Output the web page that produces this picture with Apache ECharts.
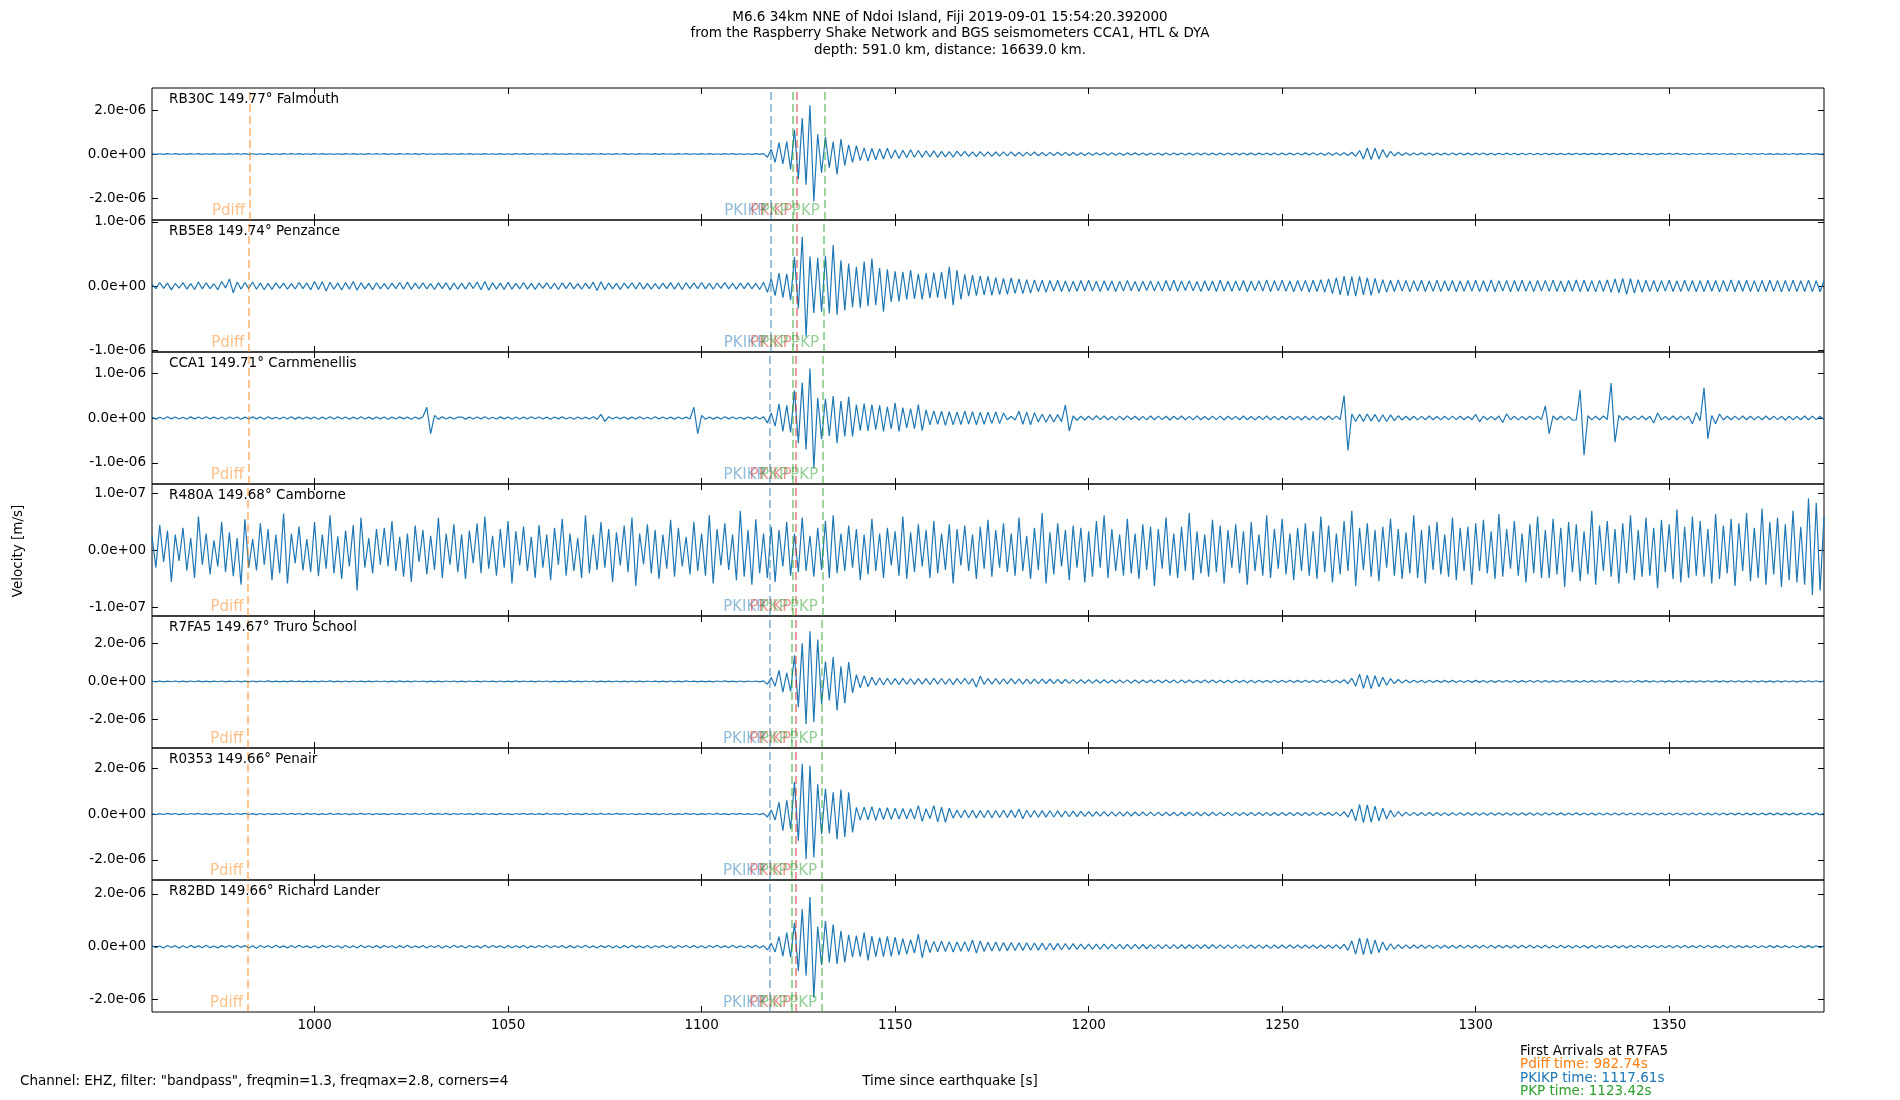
<!DOCTYPE html>
<html><head><meta charset="utf-8">
<script src="https://cdn.jsdelivr.net/npm/echarts@6/dist/echarts.min.js"></script>
<style>html,body{margin:0;padding:0;background:#fff}#c{width:1900px;height:1100px}</style>
</head><body><div id="c"></div>
<script>
// ---------- DATA ----------
const T0 = 958;          // time of first sample [s since earthquake]
const DT = 1;            // sample step [s]
const UNIT = 1e-9;       // trace values are in nm/s
const X_MIN = 958, X_MAX = 1390;
const xTicks = [1000, 1050, 1100, 1150, 1200, 1250, 1300, 1350];

const stationCodes = ['RB30C', 'RB5E8', 'CCA1', 'R480A', 'R7FA5', 'R0353', 'R82BD'];
const stationDists = ['149.77', '149.74', '149.71', '149.68', '149.67', '149.66', '149.66'];
const stationPlaces = ['Falmouth', 'Penzance', 'Carnmenellis', 'Camborne', 'Truro School', 'Penair', 'Richard Lander'];

const yMins = [-3.0e-6, -1.03e-6, -1.47e-6, -1.15e-7, -3.5e-6, -2.88e-6, -2.47e-6];
const yMaxs = [3.0e-6, 1.03e-6, 1.47e-6, 1.17e-7, 3.44e-6, 2.88e-6, 2.52e-6];
const yTicks = [
  [-2e-6, 0, 2e-6], [-1e-6, 0, 1e-6], [-1e-6, 0, 1e-6], [-1e-7, 0, 1e-7],
  [-2e-6, 0, 2e-6], [-2e-6, 0, 2e-6], [-2e-6, 0, 2e-6]
];

const pdiffTimes = [983.2, 983.0, 982.9, 982.8, 982.74, 982.7, 982.7];
const pkikpTimes = [1117.9, 1117.8, 1117.7, 1117.65, 1117.61, 1117.6, 1117.6];
const pkpTimes   = [1123.6, 1123.55, 1123.5, 1123.45, 1123.42, 1123.4, 1123.4];
const pkikp2Times = [1124.6, 1124.5, 1124.4, 1124.35, 1124.3, 1124.3, 1124.3]; // PKiKP
const pkp2Times  = [1131.7, 1131.5, 1131.3, 1131.2, 1131.1, 1131.0, 1131.0];

const firstArrivalLines = ['First Arrivals at R7FA5', 'Pdiff time: 982.74s', 'PKIKP time: 1117.61s', 'PKP time: 1123.42s'];

const RB30C = [
12,-15,10,-18,14,-11,16,-13,12,-17,15,-10,13,-16,11,-14,17,-12,10,-15,
14,-12,16,-11,13,-18,12,-15,10,-14,16,-13,11,-17,15,-12,14,-10,18,-13,
11,-16,13,-12,15,-14,10,-17,12,-13,16,-11,14,-15,12,-18,13,-10,15,-12,
17,-13,11,-15,14,-12,16,-10,13,-19,22,-14,12,-16,11,-13,15,-17,10,-14,
13,-11,16,-14,12,-15,18,-12,10,-16,14,-13,11,-15,17,-12,13,-14,16,-11,
12,-17,14,-10,15,-13,11,-16,13,-12,18,-14,10,-15,16,-11,14,-13,12,-17,
15,-12,13,-16,11,-14,17,-10,12,-15,14,-13,16,-11,10,-18,13,-12,15,-14,
12,-16,14,-11,13,-15,10,-17,16,-12,14,-13,11,-15,12,-14,16,-18,20,-150,
220,-380,520,-450,560,-700,1100,-1150,1620,-1400,2220,-2160,900,-850,780,-620,560,-930,675,-520,
420,-380,375,-300,280,-320,250,-260,240,-230,260,-210,180,-200,170,-160,190,-150,160,-140,
150,-130,140,-150,120,-130,110,-140,130,-100,120,-110,100,-120,110,-95,100,-105,90,-100,
95,-85,100,-90,80,-95,85,-75,90,-80,70,-85,75,-70,80,-65,75,-70,65,-72,
60,-68,55,-62,58,-50,60,-55,52,-58,48,-55,50,-45,52,-48,45,-50,47,-44,
45,-50,42,-46,48,-40,44,-47,40,-45,43,-38,46,-42,40,-44,38,-42,45,-40,
42,-38,45,-40,38,-44,41,-37,43,-40,45,-42,38,-46,40,-43,48,-45,52,-50,
55,-50,48,-58,60,-55,62,-58,60,-65,80,-110,160,-230,270,-250,260,-230,200,-150,
120,-90,80,-70,60,-58,50,-48,52,-45,47,-50,44,-46,40,-45,42,-38,44,-40,
38,-42,40,-36,42,-38,35,-40,37,-34,39,-36,33,-38,35,-32,36,-34,30,-35,
32,-30,34,-31,29,-33,30,-28,32,-29,27,-31,28,-30,26,-29,30,-27,28,-25,
27,-26,29,-24,26,-28,25,-27,23,-26,28,-24,25,-22,26,-24,22,-25,23,-21,
24,-22,25,-20,23,-24,21,-23,20,-22,24,-21,22,-19,23,-20,21,-22,19,-21,
20,-22,19,-21,23,-18,20,-19,21,-17,19,-20,18
];
const RB5E8 = [
30,-42,55,-38,45,-60,40,-35,52,-48,38,-55,62,-45,50,-40,35,-58,70,-30,
110,-105,60,-48,55,-40,62,-50,45,-58,40,-52,48,-36,44,-50,38,-46,55,-42,
48,-60,72,-55,65,-78,58,-50,45,-62,55,-48,70,-66,52,-45,40,-58,50,-44,
38,-50,45,-42,55,-48,60,-52,44,-40,50,-46,38,-55,48,-42,52,-60,45,-50,
42,-48,55,-40,62,-58,70,-64,52,-48,45,-56,60,-50,42,-46,54,-48,40,-52,
45,-38,50,-46,42,-55,48,-40,52,-44,38,-50,46,-42,60,-72,65,-58,48,-45,
40,-52,46,-38,50,-44,55,-48,42,-50,38,-46,44,-40,52,-48,45,-55,50,-42,
48,-40,55,-45,42,-50,46,-38,52,-44,40,-48,45,-42,50,-46,40,-55,60,-100,
110,-150,200,-180,190,-220,450,-350,770,-790,460,-420,440,-400,470,-430,640,-450,400,-380,
350,-330,300,-340,380,-310,430,-300,280,-400,260,-250,230,-240,220,-210,250,-200,190,-210,
200,-190,210,-180,220,-200,300,-300,250,-210,180,-160,170,-150,160,-140,150,-145,130,-135,
120,-130,125,-115,110,-120,100,-110,95,-85,90,-100,85,-80,90,-85,80,-88,75,-82,
85,-78,90,-80,75,-88,82,-70,78,-85,72,-80,88,-75,70,-82,76,-70,80,-74,
72,-80,85,-75,90,-82,78,-70,84,-76,70,-88,82,-74,78,-85,90,-80,75,-82,
80,-74,86,-90,78,-72,84,-80,95,-88,82,-76,90,-84,78,-92,86,-80,88,-94,
90,-85,100,-95,110,-120,130,-140,155,-150,145,-160,150,-140,130,-145,120,-110,100,-95,
90,-85,95,-80,88,-92,84,-78,90,-86,80,-84,92,-88,82,-78,86,-90,80,-84,
85,-80,90,-88,82,-86,95,-90,84,-80,88,-92,86,-82,90,-84,80,-88,86,-80,
88,-84,92,-86,80,-90,85,-82,94,-88,90,-86,84,-92,88,-82,95,-100,110,-105,
120,-130,115,-110,100,-95,90,-88,86,-92,84,-80,90,-86,82,-88,92,-84,86,-90,
84,-88,90,-82,86,-92,88,-84,95,-90,86,-82,90,-88,84,-92,88,-86,90,-84,
88,-92,86,-84,90,-88,82,-86,92,-88,84,-90,86
];
const CCA1 = [
20,-25,18,-22,26,-19,24,-21,17,-23,25,-20,22,-18,27,-24,19,-21,23,-26,
21,-18,24,-27,20,-22,25,-19,23,-28,26,-20,18,-24,22,-21,27,-25,19,-23,
24,-20,22,-26,19,-23,28,-21,25,-18,23,-27,20,-24,26,-22,19,-25,21,-20,
23,-26,20,-22,25,-19,24,-28,21,-20,26,240,-350,60,-30,25,-22,20,-24,18,
22,-25,19,-21,24,-20,26,-23,18,-22,25,-19,23,-27,21,-24,20,-22,26,-18,
21,-24,19,-26,23,-20,25,-22,18,-27,24,-21,20,-23,26,-30,80,-75,28,-22,
24,-19,22,-25,20,-23,27,-21,18,-24,26,-20,23,-22,19,-25,21,-24,20,-23,
240,-350,60,-28,22,-25,20,-23,26,-19,24,-21,18,-25,22,-20,26,-23,30,-110,
110,-180,315,-300,280,-320,615,-560,790,-700,1100,-1125,450,-470,430,-400,490,-560,380,-410,
470,-410,300,-280,320,-290,300,-260,280,-300,250,-240,340,-300,230,-220,210,-240,300,-280,
180,-150,160,-140,150,-165,140,-150,130,-145,155,-135,140,-150,125,-140,130,-120,135,-125,
110,-40,35,-45,150,-140,130,-150,120,-90,85,-95,80,-90,75,-80,290,-290,45,-50,
40,-45,38,-42,50,-36,44,-40,35,-48,42,-38,46,-34,40,-44,36,-41,45,-38,
42,-36,40,-45,38,-34,44,-40,36,-42,48,-38,35,-40,43,-37,41,-45,38,-35,
36,-40,44,-38,35,-42,40,-36,45,-39,37,-43,40,-35,42,-38,36,-44,39,-41,
38,-42,35,-40,44,-37,41,-36,500,-720,90,-80,85,-75,90,-70,80,-85,72,-78,
70,-60,50,-45,40,-44,38,-42,36,-40,44,-38,35,-41,39,-37,42,-36,40,-38,
35,-40,80,-85,42,-38,36,-40,44,-100,95,-40,38,-42,36,-39,41,-37,40,-36,
270,-350,45,-40,38,-42,36,-44,-40,620,-830,50,-42,38,-40,44,-36,780,-540,60,
-45,40,-38,42,-36,44,-40,38,-110,110,-42,36,-40,44,-38,42,-36,40,-130,120,
-60,670,-460,55,-130,90,-45,40,-38,42,-36,44,-40,38,-42,36,-40,44,-38,42,
-36,40,-44,38,-42,36,-40,44,-38,42,-36,40,-38
];
const R480A = [
25,-30,45,-20,35,-55,28,-18,40,-35,22,-48,60,-25,30,-42,18,-28,50,-38,
32,-45,22,-60,55,-30,20,-35,48,-25,38,-52,28,-40,65,-58,30,-22,42,-35,
20,-38,50,-45,28,-32,62,-40,25,-50,35,-28,45,-70,58,-30,22,-40,38,-25,
40,-28,52,-36,24,-46,30,-55,44,-20,36,-42,26,-34,58,-48,30,-25,46,-38,
28,-50,35,-22,48,-40,60,-32,26,-44,38,-30,52,-58,34,-26,42,-36,24,-48,
45,-30,28,-52,40,-25,56,-44,30,-36,22,-48,62,-40,28,-34,50,-30,38,-55,
32,-26,44,-38,58,-62,30,-24,46,-40,36,-50,28,-32,54,-46,40,-28,24,-42,
50,-36,30,-44,62,-58,38,-26,48,-34,28,-52,70,-46,36,-60,55,-40,30,-48,
42,-55,36,-28,50,-44,30,-38,58,-36,26,-46,40,-34,52,-48,62,-40,30,-36,
44,-30,38,-52,28,-42,56,-36,30,-48,40,-26,34,-44,60,-50,32,-38,46,-28,
36,-48,52,-40,30,-34,46,-58,38,-26,44,-36,28,-50,42,-32,54,-46,36,-30,
48,-38,30,-44,58,-36,26,-50,40,-34,66,-58,32,-42,48,-28,36,-52,44,-30,
40,-56,34,-46,52,-30,62,-48,38,-36,28,-44,56,-40,30,-50,46,-34,42,-62,
38,-32,58,-44,30,-48,42,-36,66,-52,34,-40,28,-46,54,-38,44,-58,36,-30,
46,-40,34,-60,50,-36,28,-44,62,-48,38,-32,56,-42,30,-52,40,-36,48,-44,
34,-50,60,-38,44,-56,30,-42,52,-36,70,-62,40,-34,48,-46,36,-54,42,-30,
56,-44,38,-50,32,-40,62,-48,36,-58,44,-34,50,-42,28,-46,58,-52,40,-36,
42,-60,48,-36,54,-40,34,-50,64,-46,38,-32,52,-44,30,-56,46,-40,60,-48,
36,-48,56,-42,40,-64,50,-38,46,-54,34,-42,70,-60,44,-36,52,-46,38,-58,
48,-40,62,-52,36,-46,58,-44,40,-66,54,-38,46,-50,72,-56,42,-48,60,-44,
52,-46,38,-58,64,-50,44,-40,56,-62,48,-36,66,-54,40,-48,74,-60,50,-42,
58,-64,46,-52,70,-56,42,-60,92,-78,84,-70,60
];
const R7FA5 = [
18,-22,15,-25,20,-17,23,-19,16,-24,21,-18,25,-20,17,-23,19,-16,22,-21,
20,-17,24,-22,18,-26,21,-19,23,-16,25,-20,17,-22,19,-24,26,-18,20,-23,
16,-21,19,-24,22,-18,25,-20,17,-23,21,-19,24,-16,18,-22,20,-25,23,-17,
22,-19,17,-23,26,-20,18,-24,21,-16,23,-22,19,-25,17,-20,24,-18,22,-21,
19,-24,22,-17,20,-25,23,-18,16,-21,24,-20,18,-23,25,-19,21,-17,20,-24,
23,-18,21,-26,17,-22,19,-20,25,-23,18,-21,22,-17,24,-19,20,-25,16,-22,
21,-23,18,-19,24,-21,16,-25,22,-18,20,-24,17,-21,23,-20,19,-22,25,-18,
20,-22,17,-24,19,-21,23,-18,25,-20,16,-23,21,-19,24,-17,22,-26,30,-150,
210,-250,580,-560,450,-520,1370,-1350,2000,-2240,2640,-2150,2200,-1200,1050,-1000,1280,-1530,800,-1140,
1020,-600,350,-330,300,-280,220,-200,180,-190,170,-160,150,-170,160,-150,140,-155,150,-140,
150,-160,170,-145,155,-150,140,-165,150,-135,160,-150,145,-300,280,-160,150,-140,155,-145,
140,-130,150,-125,135,-140,120,-130,125,-115,120,-110,115,-120,105,-110,100,-105,95,-100,
90,-95,85,-90,88,-80,85,-82,78,-85,80,-76,82,-78,75,-80,78,-72,76,-74,
75,-70,78,-72,70,-76,72,-68,74,-70,68,-72,70,-66,72,-68,65,-70,68,-64,
66,-62,68,-64,60,-66,62,-58,64,-60,58,-62,60,-56,62,-58,55,-60,58,-56,
60,-58,62,-56,60,-64,66,-70,90,-120,170,-250,385,-360,330,-380,300,-280,220,-200,
150,-120,100,-90,75,-68,65,-62,60,-64,58,-60,55,-58,56,-52,54,-55,50,-53,
52,-50,54,-48,50,-52,47,-50,48,-46,50,-45,47,-48,44,-46,45,-43,46,-44,
43,-45,42,-44,46,-41,43,-42,40,-44,42,-40,41,-43,39,-42,40,-38,42,-40,
39,-41,38,-40,42,-37,40,-38,36,-40,38,-36,39,-37,35,-38,37,-35,38,-36,
36,-38,35,-37,39,-34,36,-35,38,-33,35,-36,34,-37,35,-33,36,-34,32,-35,
34,-33,35,-32,34,-36,33,-31,34,-32,33,-30,32
];
const R0353 = [
20,-24,17,-21,26,-19,22,-25,18,-23,21,-17,24,-20,19,-26,23,-18,25,-22,
17,-23,21,-19,25,-22,18,-24,20,-26,23,-17,19,-21,24,-20,26,-18,22,-25,
24,-18,22,-26,19,-21,25,-23,17,-20,23,-24,18,-22,26,-19,21,-25,20,-17,
19,-25,23,-20,18,-24,21,-17,26,-22,20,-23,25,-19,17,-21,24,-26,22,-18,
23,-20,17,-25,24,-18,20,-22,19,-26,25,-21,18,-24,22,-17,26,-20,19,-23,
18,-26,24,-21,20,-19,23,-25,21,-18,17,-24,26,-22,19,-20,25,-23,18,-21,
25,-19,20,-23,22,-26,18,-21,24,-17,19,-25,21,-20,23,-24,17,-22,26,-19,
21,-25,19,-18,23,-22,26,-20,17,-24,22,-19,25,-21,18,-23,20,-26,28,-130,
175,-260,510,-730,600,-650,1390,-1170,2190,-1970,2100,-1900,1300,-880,1100,-850,950,-1100,1070,-1000,
950,-800,290,-270,300,-250,320,-280,260,-240,270,-230,250,-220,240,-210,230,-220,365,-320,
230,-200,365,-340,300,-360,250,-180,170,-160,175,-165,160,-170,155,-150,165,-160,150,-155,
160,-150,170,-155,220,-210,160,-145,150,-140,145,-135,140,-130,135,-125,130,-120,125,-115,
110,-105,100,-108,98,-95,100,-92,95,-90,92,-88,90,-86,88,-85,86,-82,84,-80,
82,-78,80,-76,78,-80,75,-78,76,-72,78,-74,72,-76,74,-70,72,-74,70,-72,
70,-68,72,-66,68,-70,66,-68,70,-64,68,-66,64,-68,66,-62,68,-64,62,-66,
64,-60,62,-58,66,-64,70,-80,100,-140,220,-300,420,-380,400,-360,340,-300,250,-220,
160,-130,110,-95,80,-72,70,-68,66,-70,64,-66,62,-64,60,-62,58,-60,56,-58,
58,-55,56,-54,57,-52,55,-53,54,-50,52,-54,50,-52,51,-49,52,-50,48,-51,
50,-48,52,-47,49,-50,47,-48,50,-46,48,-47,45,-48,46,-44,47,-45,44,-46,
45,-43,46,-44,42,-45,44,-42,43,-41,44,-42,40,-43,42,-40,41,-42,40,-41,
40,-42,39,-41,43,-40,41,-39,42,-38,40,-41,39,-40,38,-41,40,-39,38,-40,
39,-38,40,-37,39,-40,38,-36,39,-37,38,-36,37
];
const R82BD = [
35,-42,28,-50,45,-30,38,-55,32,-40,48,-36,30,-44,52,-38,27,-46,40,-33,
44,-36,52,-28,40,-48,34,-58,46,-30,38,-42,55,-35,29,-47,41,-39,50,-32,
30,-45,38,-52,48,-34,42,-29,36,-50,44,-40,31,-48,56,-37,33,-43,39,-46,
47,-31,35,-49,40,-38,53,-44,28,-36,46,-51,37,-30,43,-47,34,-41,50,-35,
38,-50,45,-33,30,-46,52,-39,41,-28,36,-54,48,-42,32,-37,45,-49,29,-40,
42,-35,50,-44,36,-31,47,-53,39,-45,33,-38,55,-41,30,-48,40,-36,46,-52,
33,-47,39,-40,51,-36,28,-45,43,-50,37,-32,48,-43,35,-55,41,-30,46,-39,
40,-44,36,-50,46,-33,52,-38,30,-42,49,-45,34,-40,44,-36,50,-48,42,-125,
125,-200,380,-360,530,-400,900,-920,1410,-1100,1880,-1930,760,-700,970,-600,840,-650,600,-600,
450,-400,420,-380,530,-520,400,-380,350,-380,390,-370,360,-320,300,-280,260,-240,470,-420,
260,-220,200,-190,210,-180,190,-200,180,-170,190,-180,250,-240,220,-180,170,-160,175,-165,
160,-150,155,-145,150,-140,145,-135,140,-130,135,-125,130,-120,125,-115,120,-110,115,-105,
100,-95,98,-92,95,-90,92,-88,90,-86,88,-85,86,-82,84,-80,82,-78,80,-76,
78,-75,76,-73,75,-72,74,-70,72,-71,70,-69,72,-68,70,-66,68,-67,66,-65,
68,-64,66,-65,64,-62,66,-63,62,-64,63,-60,62,-61,60,-62,61,-59,60,-58,
62,-60,60,-58,62,-64,70,-80,95,-140,220,-280,320,-300,310,-280,250,-220,180,-140,
110,-90,80,-70,66,-68,64,-62,60,-63,58,-60,57,-59,56,-58,55,-57,54,-56,
55,-53,56,-54,52,-55,53,-51,54,-52,50,-53,51,-50,52,-49,50,-51,48,-50,
49,-50,48,-47,50,-46,48,-49,47,-45,48,-46,44,-47,46,-45,47,-44,45,-46,
44,-46,45,-43,46,-44,42,-45,44,-43,45,-42,43,-44,42,-41,43,-42,40,-43,
42,-40,43,-41,40,-42,41,-39,42,-40,39,-41,40,-38,41,-39,38,-40,39,-37,
40,-38,39,-40,37,-39,38,-36,39,-37,36,-38,37
];
const traces = [RB30C, RB5E8, CCA1, R480A, R7FA5, R0353, R82BD];

// ---------- STYLE / LAYOUT ----------
const FONT = 'DejaVu Sans';
const GL = 152, GT = 88, GW = 1672, GH = 132;
const TRACE_COLOR = '#1f77b4';
const arrivals = [
  { name: 'Pdiff', times: pdiffTimes, color: 'rgba(255,127,14,0.5)' },
  { name: 'PKIKP', times: pkikpTimes, color: 'rgba(31,119,180,0.5)' },
  { name: 'PKiKP', times: pkikp2Times, color: 'rgba(214,39,40,0.5)' },
  { name: 'PKP', times: pkpTimes, color: 'rgba(44,160,44,0.5)' },
  { name: 'PKP', times: pkp2Times, color: 'rgba(44,160,44,0.5)' }
];
const fmtE = v => v.toExponential(1).replace(/e([+-])(\d)$/, (m, s, d) => 'e' + s + '0' + d);
const tickStyle = { show: true, inside: true, length: 6, lineStyle: { color: '#000', width: 1 } };
const noLine = { show: false, onZero: false };

const grids = [], xAxes = [], yAxes = [], series = [], graphics = [];
traces.forEach((tr, i) => {
  const last = i === traces.length - 1;
  grids.push({ left: GL, top: GT + GH * i, width: GW, height: GH, show: true,
    borderColor: '#000', borderWidth: 1, backgroundColor: 'rgba(0,0,0,0)', containLabel: false, outerBoundsMode: 'none' });
  xAxes.push({ gridIndex: i, type: 'value', position: 'bottom', min: X_MIN, max: X_MAX,
    axisLine: noLine, splitLine: { show: false },
    axisTick: Object.assign({ customValues: xTicks }, tickStyle),
    axisLabel: { show: last, customValues: xTicks, formatter: v => String(v), margin: 6, color: '#000', fontSize: 13.5, fontFamily: FONT } });
  xAxes.push({ gridIndex: i, type: 'value', position: 'top', min: X_MIN, max: X_MAX,
    axisLine: noLine, splitLine: { show: false },
    axisTick: Object.assign({ customValues: xTicks }, tickStyle), axisLabel: { show: false } });
  yAxes.push({ gridIndex: i, type: 'value', position: 'left', min: yMins[i], max: yMaxs[i],
    axisLine: noLine, splitLine: { show: false },
    axisTick: Object.assign({ customValues: yTicks[i] }, tickStyle),
    axisLabel: { show: true, customValues: yTicks[i], formatter: fmtE, margin: 6, color: '#000', fontSize: 13.5, fontFamily: FONT } });
  yAxes.push({ gridIndex: i, type: 'value', position: 'right', min: yMins[i], max: yMaxs[i],
    axisLine: noLine, splitLine: { show: false },
    axisTick: Object.assign({ customValues: yTicks[i] }, tickStyle), axisLabel: { show: false } });

  series.push({
    type: 'line', xAxisIndex: 2 * i, yAxisIndex: 2 * i, silent: true, animation: false,
    showSymbol: false, symbol: 'none', clip: true,
    lineStyle: { color: TRACE_COLOR, width: 1.2 },
    data: tr.map((v, k) => [T0 + k * DT, v * UNIT]),
    markLine: {
      silent: true, animation: false, symbol: ['none', 'none'], label: { show: false },
      data: arrivals.map(a => ({ xAxis: a.times[i], lineStyle: { color: a.color, width: 1.8, type: [8, 4] } }))
    },
    markPoint: {
      silent: true, animation: false, symbol: 'rect', symbolSize: 1,
      data: arrivals.map(a => ({
        coord: [a.times[i], yMins[i]], itemStyle: { color: 'rgba(0,0,0,0)' },
        label: { show: true, formatter: a.name, position: 'left', distance: 4, offset: [0, -9],
          color: a.color, fontSize: 15, fontFamily: FONT }
      }))
    }
  });

  graphics.push({ type: 'text', left: GL + 17, top: GT + GH * i + 4, z: 10,
    style: { text: stationCodes[i] + ' ' + stationDists[i] + '\u00b0 ' + stationPlaces[i],
      font: '13.5px "' + FONT + '"', fill: '#000' } });
});

const titleLines = [
  'M6.6 34km NNE of Ndoi Island, Fiji 2019-09-01 15:54:20.392000',
  'from the Raspberry Shake Network and BGS seismometers CCA1, HTL & DYA',
  'depth: 591.0 km, distance: 16639.0 km.'
];
titleLines.forEach((t, k) => graphics.push({ type: 'text', x: 950, y: 17 + 16.5 * k, z: 10,
  style: { text: t, font: '13.5px "' + FONT + '"', fill: '#000', align: 'center', verticalAlign: 'middle' } }));

graphics.push({ type: 'text', x: 18, y: 551, rotation: Math.PI / 2, z: 10,
  style: { text: 'Velocity [m/s]', font: '13.5px "' + FONT + '"', fill: '#000', align: 'center', verticalAlign: 'middle' } });
graphics.push({ type: 'text', x: 20, y: 1081, z: 10,
  style: { text: 'Channel: EHZ, filter: "bandpass", freqmin=1.3, freqmax=2.8, corners=4', font: '13.5px "' + FONT + '"', fill: '#000', verticalAlign: 'middle' } });
graphics.push({ type: 'text', x: 950, y: 1081, z: 10,
  style: { text: 'Time since earthquake [s]', font: '13.5px "' + FONT + '"', fill: '#000', align: 'center', verticalAlign: 'middle' } });
const blockColors = ['#000000', '#ff7f0e', '#1f77b4', '#2ca02c'];
firstArrivalLines.forEach((t, k) => graphics.push({ type: 'text', x: 1520, y: 1051 + 13.6 * k, z: 10,
  style: { text: t, font: '13.5px "' + FONT + '"', fill: blockColors[k], verticalAlign: 'middle' } }));

const chart = echarts.init(document.getElementById('c'), null, { renderer: 'canvas', width: 1900, height: 1100 });
chart.setOption({
  animation: false,
  backgroundColor: '#ffffff',
  textStyle: { fontFamily: FONT },
  grid: grids, xAxis: xAxes, yAxis: yAxes, series: series, graphic: graphics
});
</script>
</body></html>
